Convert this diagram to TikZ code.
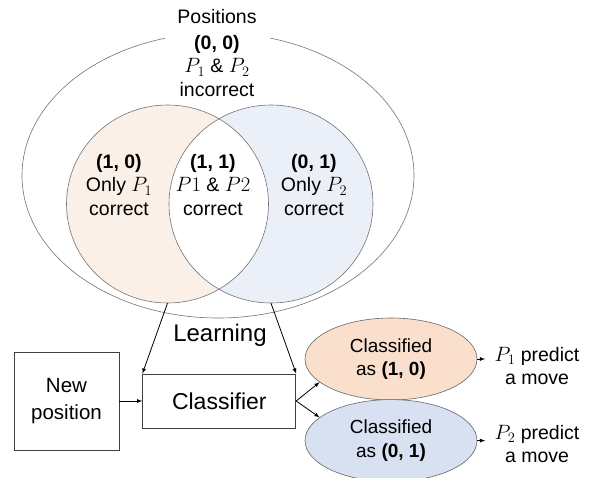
\documentclass[tikz,border=0pt]{standalone}
\usepackage{fontspec}
\setmainfont{Liberation Sans}
\usetikzlibrary{positioning,shapes.geometric}

\definecolor{peachlight}{HTML}{FBF0E8}
\definecolor{bluelight}{HTML}{EAEFF8}
\definecolor{peach}{HTML}{F9DFCC}
\definecolor{bluemid}{HTML}{D8E1F1}

\begin{document}
\begin{tikzpicture}[x=1pt, y=-1pt, node distance=0pt,
      txt/.style={align=center, font=\fontsize{19.5}{23.5}\selectfont},
      box/.style={rectangle, draw=black!75, line width=0.8pt, align=center},
      oval/.style={ellipse, draw=black!60, line width=0.6pt, inner sep=0pt, align=center,
                   minimum width=172, minimum height=82, font=\fontsize{19}{23.5}\selectfont},
      venn/.style={draw=black!55, line width=0.6pt},
      arr/.style={line width=0.8pt,-latex}
      ]
      \useasboundingbox (0,0) rectangle (592,477);
      % outer set of positions
      \node (pos) [ellipse, venn, minimum width=392, minimum height=285] at (218,175.5) {};
      \node (ttl) [txt, fill=white, minimum width=105, minimum height=44] at (217,17) {Positions};
      % the two players
      \node (lc) [ellipse, fill=peachlight, minimum width=202, minimum height=198, inner sep=0pt] at (167.5,204) {};
      \node (rc) [ellipse, fill=bluelight, minimum width=204, minimum height=198, inner sep=0pt] at (271,204) {};
      \begin{scope}
        \clip (lc.center) ellipse [x radius=101, y radius=99];
        \fill[white] (rc.center) ellipse [x radius=102, y radius=99];
      \end{scope}
      \draw[venn] (lc.center) ellipse [x radius=101, y radius=99];
      \draw[venn] (rc.center) ellipse [x radius=102, y radius=99];
      \node (r00) [txt] at (217,66) {\textbf{(0, 0)}\\$P_1$ \& $P_2$\\incorrect};
      \node (r10) [txt] at (119,185) {\textbf{(1, 0)}\\Only $P_1$\\correct};
      \node (r11) [txt] at (213,185) {\textbf{(1, 1)}\\$P1$ \& $P2$\\correct};
      \node (r01) [txt] at (314,185) {\textbf{(0, 1)}\\Only $P_2$\\correct};
      % classification
      \node (lrn) [txt, font=\fontsize{24}{28}\selectfont] at (220,335) {Learning};
      \node (new) [box, minimum width=105, minimum height=98, font=\fontsize{20.5}{26.5}\selectfont] at (66.5,401) {New\\position};
      \node (cls) [box, minimum width=153, minimum height=54, font=\fontsize{23}{27}\selectfont, right=23 of new] {Classifier};
      \node (c10) [oval, fill=peach] at (391,359) {Classified\\as \textbf{(1, 0)}};
      \node (c01) [oval, fill=bluemid, below=1 of c10] {Classified\\as \textbf{(0, 1)}};
      \node (p1) [txt] at (537,366) {$P_1$ predict\\a move};
      \node (p2) [txt] at (537,444) {$P_2$ predict\\a move};
      \draw[arr] (lc.south) -- (cls.north west);
      \draw[arr] (rc.south) -- (cls.north east);
      \draw[arr] (new) -- (cls);
      \draw[arr] (cls.east) -- (c10.198);
      \draw[arr] (cls.east) -- (c01.162);
      \draw[arr,shorten >=6pt] (c10.east) -- (c10.east -| p1.west);
      \draw[arr,shorten >=6pt] (c01.east) -- (c01.east -| p2.west);
\end{tikzpicture}
\end{document}
